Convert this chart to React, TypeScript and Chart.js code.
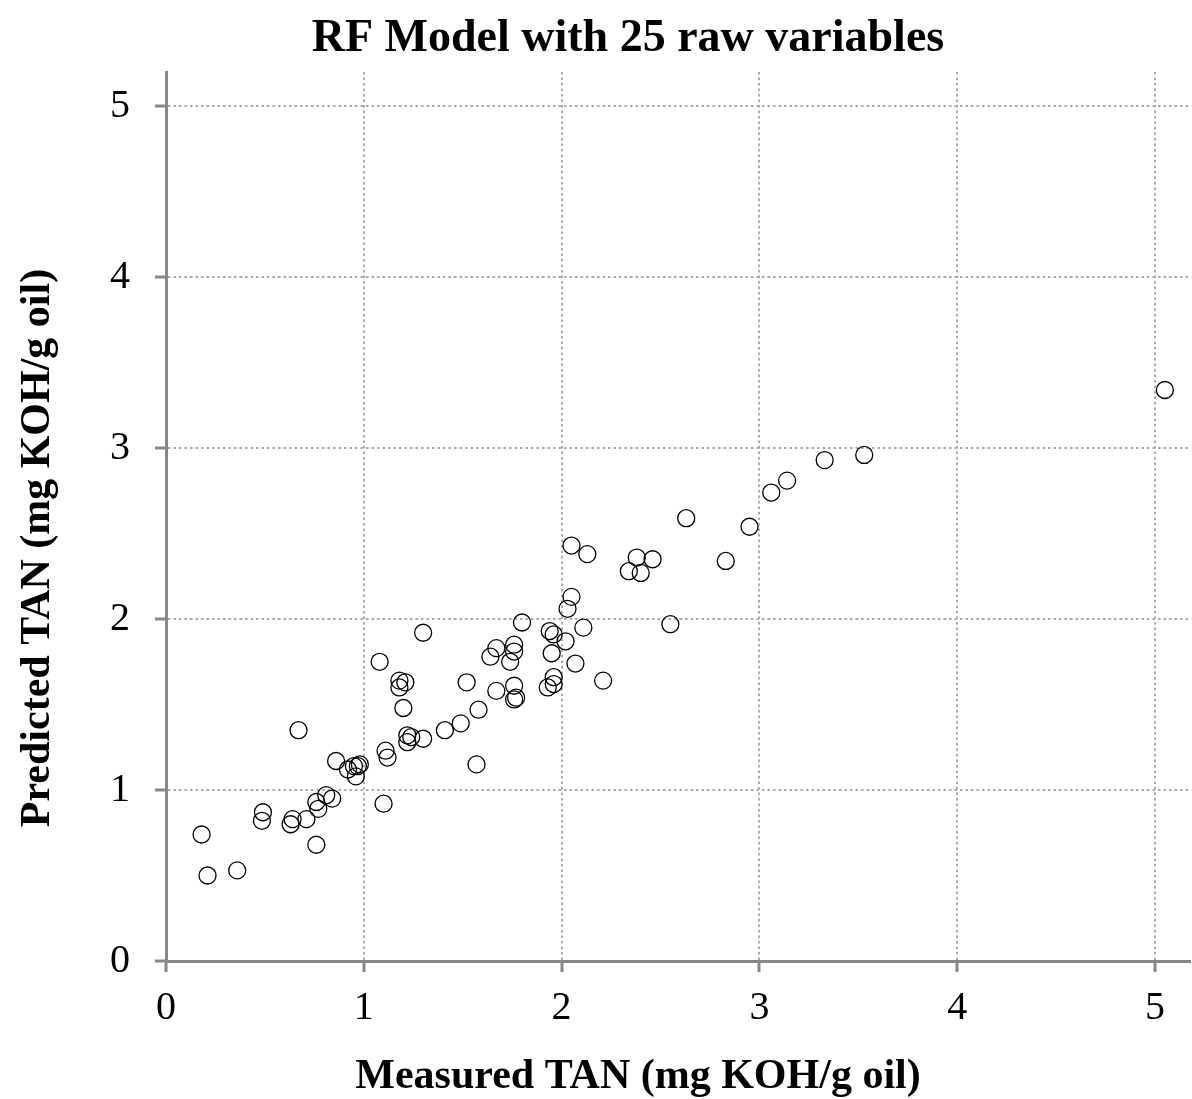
import React, { useEffect, useRef } from "react";
import { Chart, registerables } from "chart.js";

Chart.register(...registerables);

const chartTitle = "RF Model with 25 raw variables";
const xAxisTitle = "Measured TAN (mg KOH/g oil)";
const yAxisTitle = "Predicted TAN (mg KOH/g oil)";
const tickValues = [0, 1, 2, 3, 4, 5];

const measured = [
  0.18, 0.21, 0.36, 0.485, 0.49, 0.63, 0.64, 0.67, 0.71, 0.76, 0.76, 0.77, 0.81, 0.84, 0.86,
  0.92, 0.95, 0.98, 0.97, 0.96, 1.08, 1.10, 1.11, 1.12, 1.18, 1.21, 1.18, 1.20, 1.22, 1.24,
  1.22, 1.30, 1.30, 1.41, 1.49, 1.52, 1.57, 1.58, 1.64, 1.67, 1.67, 1.74, 1.76, 1.76, 1.76,
  1.77, 1.76, 1.80, 1.93, 1.94, 1.96, 1.95, 1.96, 1.96, 2.02, 2.03, 2.05, 2.05, 2.07, 2.11,
  2.13, 2.21, 2.34, 2.38, 2.40, 2.46, 2.55, 2.63, 2.83, 2.95, 3.06, 3.14, 3.33, 3.53, 5.05,
];
const predicted = [
  0.74, 0.50, 0.53, 0.82, 0.87, 0.80, 0.83, 1.35, 0.83, 0.68, 0.93, 0.89, 0.97, 0.95, 1.17,
  1.12, 1.14, 1.15, 1.14, 1.08, 1.75, 0.92, 1.23, 1.19, 1.64, 1.63, 1.60, 1.48, 1.32, 1.31,
  1.28, 1.30, 1.92, 1.35, 1.39, 1.63, 1.15, 1.47, 1.78, 1.83, 1.58, 1.75, 1.85, 1.81, 1.61,
  1.54, 1.53, 1.98, 1.60, 1.93, 1.91, 1.80, 1.66, 1.62, 1.87, 2.06, 2.13, 2.43, 1.74, 1.95,
  2.38, 1.64, 2.28, 2.36, 2.27, 2.35, 1.97, 2.59, 2.34, 2.54, 2.74, 2.81, 2.93, 2.96, 3.34,
];

const FONT = "'Liberation Serif', 'Times New Roman', serif";

export default function App() {
  const ref = useRef<HTMLCanvasElement | null>(null);

  useEffect(() => {
    document.body.style.margin = "0";
    const canvas = ref.current;
    if (!canvas) return;
    const points = measured.map((x, i) => ({ x, y: predicted[i] }));

    const titlesPlugin = {
      id: "customTitles",
      afterDraw(chart: any) {
        const ctx = chart.ctx;
        ctx.save();
        ctx.fillStyle = "#000";
        ctx.textAlign = "center";
        ctx.textBaseline = "middle";
        ctx.font = `bold 46px ${FONT}`;
        ctx.fillText(chartTitle, 628, 39);
        ctx.font = `bold 42px ${FONT}`;
        ctx.fillText(xAxisTitle, 638, 1077);
        ctx.translate(38, 548);
        ctx.rotate(-Math.PI / 2);
        ctx.fillText(yAxisTitle, 0, 0);
        ctx.restore();
      },
    };

    const gridOpts = {
      color: "#aaaaaa",
      lineWidth: 2,
      tickColor: "#888888",
      tickWidth: 3,
      tickLength: 11,
    };

    const chart = new Chart(canvas, {
      type: "scatter",
      data: {
        datasets: [
          {
            data: points,
            backgroundColor: "rgba(0,0,0,0)",
            borderColor: "#000",
            borderWidth: 1.3,
            pointRadius: 8.5,
            pointHoverRadius: 8.5,
            clip: false,
          },
        ],
      },
      options: {
        animation: false,
        responsive: false,
        maintainAspectRatio: false,
        layout: { autoPadding: false, padding: { top: 72, right: 2, left: 0, bottom: 0 } },
        plugins: { legend: { display: false }, tooltip: { enabled: false }, title: { display: false } },
        scales: {
          x: {
            type: "linear",
            min: 0,
            max: 5.177,
            afterBuildTicks(scale: any) {
              scale.ticks = tickValues.map((v) => ({ value: v }));
            },
            afterFit(scale: any) {
              scale.height = 138;
              scale.paddingLeft = 0;
              scale.paddingRight = 0;
            },
            ticks: {
              color: "#000",
              font: { family: FONT, size: 40 },
              padding: 12,
              maxRotation: 0,
            },
            grid: gridOpts,
            border: { color: "#888888", width: 3, dash: [2.5, 3] },
          },
          y: {
            type: "linear",
            min: 0,
            max: 5.2,
            afterBuildTicks(scale: any) {
              scale.ticks = tickValues.map((v) => ({ value: v }));
            },
            afterFit(scale: any) {
              scale.width = 166;
              scale.paddingTop = 0;
              scale.paddingBottom = 0;
            },
            ticks: {
              color: "#000",
              font: { family: FONT, size: 40 },
              padding: 25,
            },
            grid: gridOpts,
            border: { color: "#888888", width: 3, dash: [2.5, 3] },
          },
        },
      },
      plugins: [titlesPlugin],
    });
    return () => chart.destroy();
  }, []);

  return (
    <div style={{ position: "absolute", left: 0, top: 0, width: 1192, height: 1099, background: "#fff" }}>
      <canvas ref={ref} width={1192} height={1099} style={{ width: 1192, height: 1099 }} />
    </div>
  );
}
